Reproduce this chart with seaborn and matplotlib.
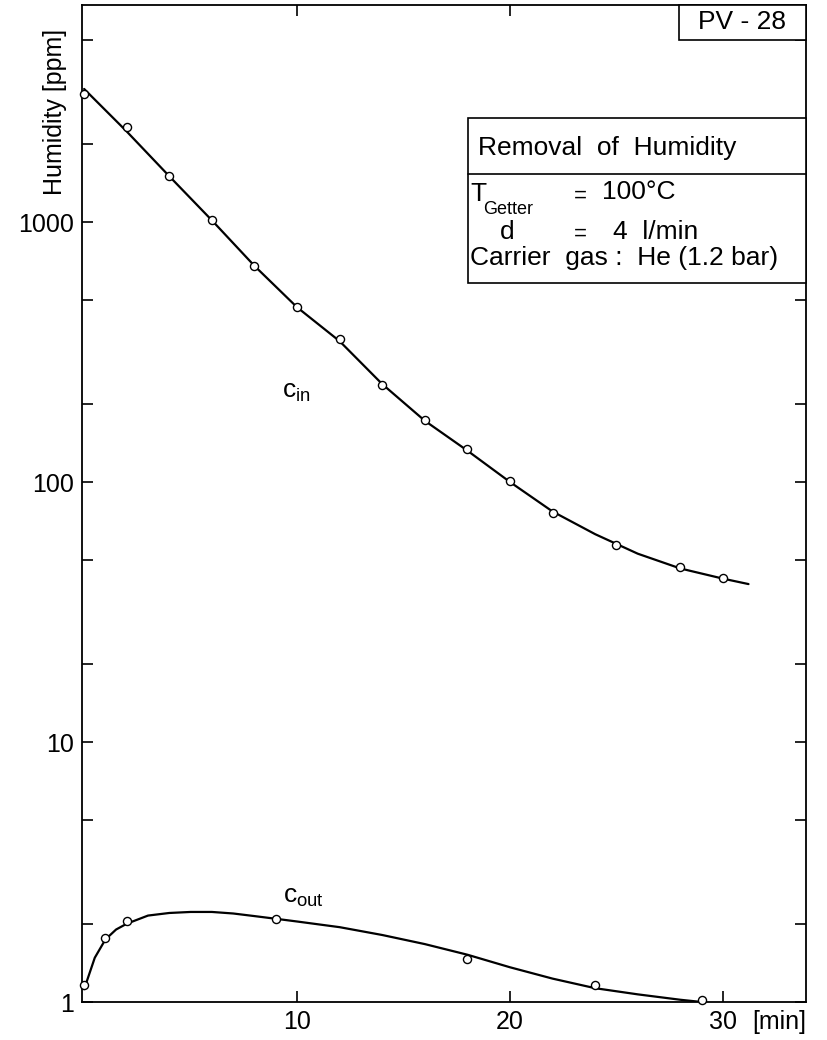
"""
Removal of humidity (PV-28): inlet and outlet humidity vs. time, log scale.
"""

import matplotlib

matplotlib.use("Agg")
import matplotlib.pyplot as plt
import matplotlib.ticker as mticker
import pandas as pd
import seaborn as sns
from matplotlib.patches import Rectangle

# --- data ------------------------------------------------------------------
t_in_pts = [0, 2, 4, 6, 8, 10, 12, 14, 16, 18, 20, 22, 25, 28, 30]
c_in_pts = [3100, 2325, 1500, 1018, 676, 471, 356, 236, 173, 134, 101, 76, 57, 47.2, 42.9]

t_in_line = [0, 2, 4, 6, 8, 10, 12, 14, 16, 18, 20, 22, 24, 26, 28, 30, 31.2]
c_in_line = [3250, 2230, 1500, 1015, 678, 470, 348, 238, 172, 132, 100, 77, 63, 53, 46.5, 42.5, 40.5]

t_out_pts = [0, 1, 2, 9, 18, 24, 29]
c_out_pts = [1.16, 1.77, 2.05, 2.08, 1.46, 1.16, 1.02]

t_out_line = [0, 0.5, 1, 1.5, 2, 3, 4, 5, 6, 7, 8, 9, 10, 12, 14, 16, 18, 20, 22, 24, 26, 28, 29]
c_out_line = [1.12, 1.48, 1.74, 1.90, 2.00, 2.15, 2.20, 2.22, 2.22, 2.19, 2.14, 2.09, 2.04,
              1.94, 1.81, 1.67, 1.52, 1.36, 1.23, 1.13, 1.07, 1.02, 1.0]

x_ticks = [10, 20, 30]
y_ticks = [1, 10, 100, 1000]
y_tick_labels = ["1", "10", "100", "1000"]

# --- style -----------------------------------------------------------------
sns.set_theme(style="ticks")
plt.rcParams["font.family"] = ["Liberation Sans", "DejaVu Sans"]
plt.rcParams["mathtext.default"] = "regular"
plt.rcParams["text.color"] = "black"

W, H = 828, 1040
fig = plt.figure(figsize=(W / 100, H / 100), dpi=100)


def fx(px):
    return px / W


def fy(py):
    return 1 - py / H


ax = fig.add_axes([fx(82), fy(1002), fx(806) - fx(82), fy(5) - fy(1002)])

lines = pd.concat([
    pd.DataFrame({"t": t_in_line, "c": c_in_line, "series": "in"}),
    pd.DataFrame({"t": t_out_line, "c": c_out_line, "series": "out"}),
])
points = pd.concat([
    pd.DataFrame({"t": t_in_pts, "c": c_in_pts, "series": "in"}),
    pd.DataFrame({"t": t_out_pts, "c": c_out_pts, "series": "out"}),
])

sns.lineplot(data=lines, x="t", y="c", units="series", estimator=None,
             color="black", linewidth=1.6, sort=False, ax=ax, legend=False)
sns.scatterplot(data=points, x="t", y="c", marker="o", s=34,
                facecolor="white", edgecolor="black", linewidth=1.0,
                ax=ax, legend=False, zorder=3, clip_on=False)

ax.set_yscale("log")
ax.set_xlim(-0.1, 33.9)
ax.set_ylim(1, 6835)

ax.set_xticks(x_ticks)
ax.set_xticklabels([str(v) for v in x_ticks])
ax.yaxis.set_major_locator(mticker.FixedLocator(y_ticks))
ax.yaxis.set_major_formatter(mticker.FixedFormatter(y_tick_labels))
ax.yaxis.set_minor_locator(mticker.LogLocator(base=10, subs=(2.0, 5.0)))
ax.yaxis.set_minor_formatter(mticker.NullFormatter())

ax.tick_params(axis="both", which="both", direction="in", length=8, width=1.2,
               top=True, right=True, colors="black")
ax.tick_params(axis="both", which="major", labelsize=18, pad=6)

for sp in ax.spines.values():
    sp.set_linewidth(1.3)
    sp.set_color("black")

ax.set_xlabel("")
ax.set_ylabel("")

# axis titles placed like the original drawing
fig.text(fx(55), fy(112), "Humidity [ppm]", rotation=90, ha="center", va="center",
         fontsize=18)
fig.text(fx(806), fy(1022), "[min]", ha="right", va="center", fontsize=18)

# curve labels
ax.text(9.3, 222, "c$_{in}$", fontsize=19, ha="left", va="center")
ax.text(9.35, 2.53, "c$_{out}$", fontsize=19, ha="left", va="center")

# PV-28 tag
fig.patches.append(Rectangle((fx(679), fy(40)), fx(806) - fx(679), fy(5) - fy(40),
                             transform=fig.transFigure, facecolor="white",
                             edgecolor="black", linewidth=1.2, zorder=5))
fig.text(fx(742), fy(22), "PV - 28", ha="center", va="center", fontsize=19, zorder=6)

# condition box
fig.patches.append(Rectangle((fx(468), fy(283)), fx(806) - fx(468), fy(118) - fy(283),
                             transform=fig.transFigure, facecolor="white",
                             edgecolor="black", linewidth=1.2, zorder=5))
fig.lines.append(plt.Line2D([fx(468), fx(806)], [fy(174), fy(174)],
                            transform=fig.transFigure, color="black", linewidth=1.2,
                            zorder=6))
fig.text(fx(478), fy(148), "Removal  of  Humidity", ha="left", va="center",
         fontsize=19, zorder=6)
fig.text(fx(470), fy(194), "T", ha="left", va="center", fontsize=19, zorder=6)
fig.text(fx(483), fy(210), "Getter", ha="left", va="center", fontsize=13, zorder=6)
fig.text(fx(580), fy(196), "=", ha="center", va="center", fontsize=16, zorder=6)
fig.text(fx(602), fy(192), "100°C", ha="left", va="center", fontsize=19, zorder=6)
fig.text(fx(500), fy(232), "d", ha="left", va="center", fontsize=19, zorder=6)
fig.text(fx(580), fy(234), "=", ha="center", va="center", fontsize=16, zorder=6)
fig.text(fx(613), fy(232), "4  l/min", ha="left", va="center", fontsize=19, zorder=6)
fig.text(fx(470), fy(258), "Carrier  gas :  He (1.2 bar)", ha="left", va="center",
         fontsize=19, zorder=6)

fig.savefig("out.png", dpi=100)
